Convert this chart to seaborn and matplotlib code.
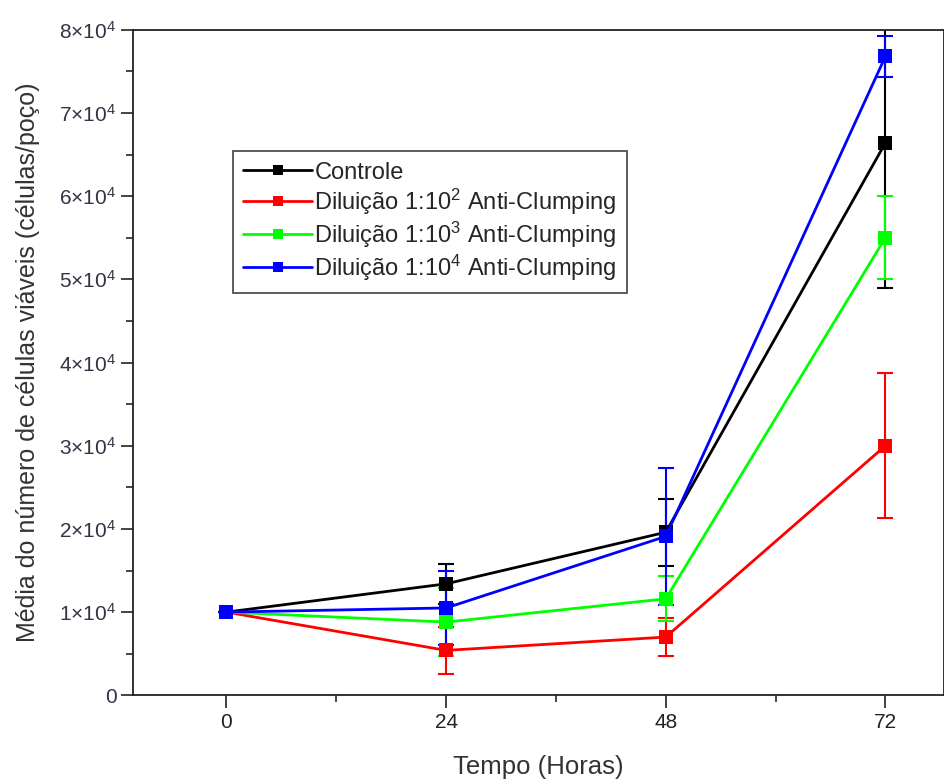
import pandas as pd
import seaborn as sns
import matplotlib.pyplot as plt
import matplotlib.ticker as mticker

horas = [0, 24, 48, 72]
series = ['Controle',
          r'Diluição 1:10$^2$ Anti-Clumping',
          r'Diluição 1:10$^3$ Anti-Clumping',
          r'Diluição 1:10$^4$ Anti-Clumping']
controle = [10000, 13400, 19600, 66400]
dil_102 = [10000, 5400, 7000, 30000]
dil_103 = [10000, 8800, 11600, 55000]
dil_104 = [10000, 10500, 19100, 76800]
err_controle = [0, 2400, 4000, 17500]
err_102 = [0, 2800, 2300, 8700]
err_103 = [0, 4100, 2700, 5000]
err_104 = [0, 4500, 8200, 2500]
cores = ['#000000', '#ff0000', '#00ff00', '#0000ff']

sns.set_style('white')
plt.rcParams['font.family'] = ['Liberation Sans', 'DejaVu Sans']
plt.rcParams['mathtext.fontset'] = 'custom'
plt.rcParams['mathtext.rm'] = 'Liberation Sans'
plt.rcParams['mathtext.default'] = 'regular'

vals = [controle, dil_102, dil_103, dil_104]
errs = [err_controle, err_102, err_103, err_104]
df = pd.DataFrame({
    'Tempo': horas * 4,
    'Media': sum(vals, []),
    'Erro': sum(errs, []),
    'Grupo': [s for s in series for _ in horas],
})

fig = plt.figure(figsize=(9.44, 7.83), dpi=100)
ax = fig.add_axes([0.141, 0.112, 0.859, 0.85])

for nome, cor, v, e in zip(series, cores, vals, errs):
    ax.errorbar(horas, v, yerr=e, fmt='none', ecolor=cor, elinewidth=1.5,
                capsize=6, capthick=1.5, zorder=2)

sns.lineplot(data=df, x='Tempo', y='Media', hue='Grupo', hue_order=series,
             palette=cores, marker='s', markersize=10, markeredgewidth=0,
             linewidth=2, dashes=False, ax=ax, zorder=3)

ax.set_xlim(-10.2, 78.4)
ax.set_ylim(0, 80000)
ax.set_xticks(horas)
ax.xaxis.set_minor_locator(mticker.MultipleLocator(12))
ax.yaxis.set_major_locator(mticker.MultipleLocator(10000))
ax.yaxis.set_minor_locator(mticker.MultipleLocator(5000))

def fmt(v, pos):
    if v == 0:
        return '0'
    return r'%d$\times$10$^4$' % round(v / 10000)

ax.yaxis.set_major_formatter(mticker.FuncFormatter(fmt))
ax.tick_params(which='major', direction='out', length=9, width=1.2,
               labelsize=15, colors='#222222', left=True, bottom=True, pad=4)
ax.tick_params(which='minor', direction='out', length=5, width=1.2,
               left=True, bottom=True)
ax.tick_params(axis='y', labelcolor='#3a3045', pad=3)
for s in ax.spines.values():
    s.set_color('#222222')
    s.set_linewidth(1.3)

ax.set_xlabel('Tempo (Horas)', fontsize=18.5, color='#333333', labelpad=16)
ax.set_ylabel('Média do número de células viáveis (células/poço)',
              fontsize=18, color='#333333', labelpad=14)

leg = ax.legend(loc='upper left', bbox_to_anchor=(0.123, 0.818),
                borderaxespad=0, fancybox=False, frameon=True,
                fontsize=17, handlelength=2.9, handletextpad=0.1,
                labelspacing=0.12, borderpad=0.45, markerscale=0.75)
leg.get_frame().set_edgecolor('#111111')
leg.get_frame().set_linewidth(1.2)

fig.savefig('out.png', dpi=100)
